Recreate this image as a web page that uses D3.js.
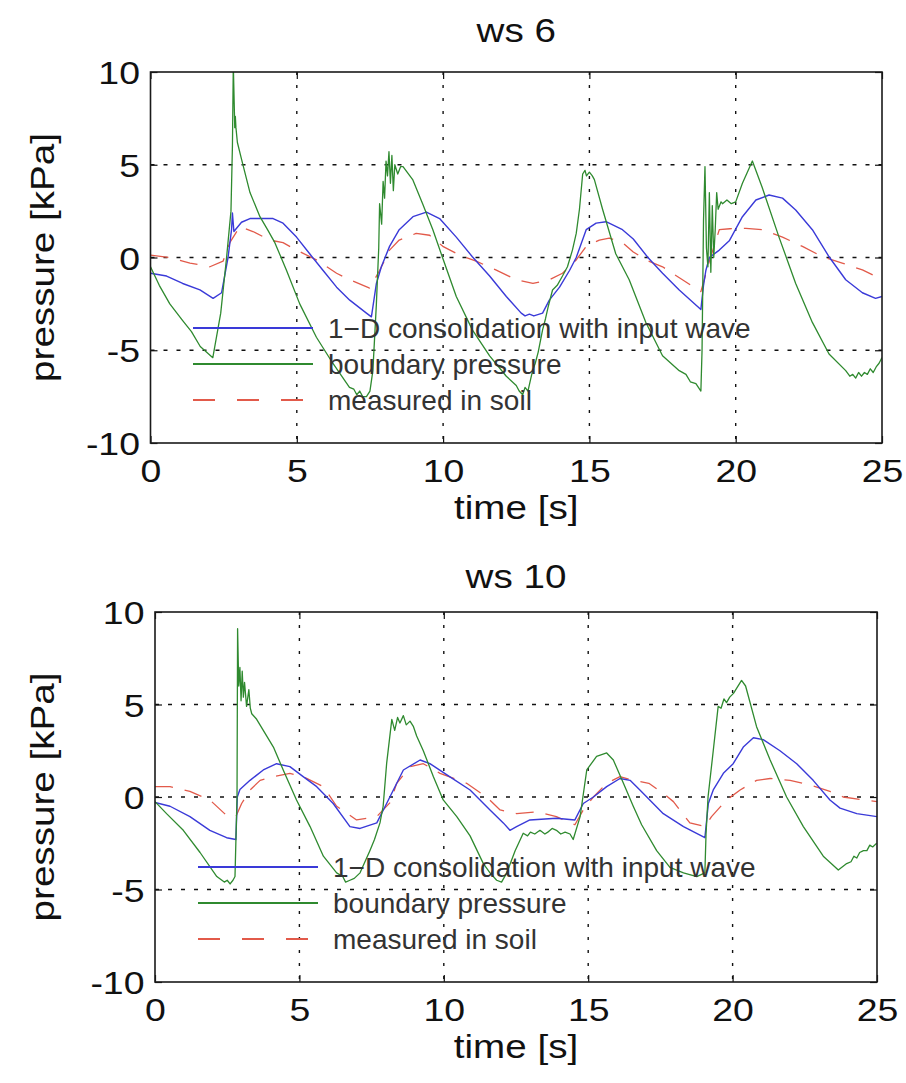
<!DOCTYPE html>
<html>
<head>
<meta charset="utf-8">
<script src="https://cdn.jsdelivr.net/npm/d3@7"></script>
<style>
  html, body { margin: 0; padding: 0; background: #fff; }
  svg { display: block; font-family: "Liberation Sans", Arial, sans-serif; }
</style>
</head>
<body>
<svg id="fig" width="906" height="1083"></svg>
<script>
// ---- data: [time s, pressure kPa] ----
const panelTitles = ["ws 6", "ws 10"];
const xTicks = [0, 5, 10, 15, 20, 25];
const yTicks = [-10, -5, 0, 5, 10];
const legendLabels = ["1\u2212D consolidation with input wave", "boundary pressure", "measured in soil"];

// ws 6
const ws6Model = [
  [0,-0.85],[0.55,-1.0],[1.1,-1.4],[1.69,-1.75],[2.14,-2.2],[2.43,-1.9],[2.65,0.0],[2.77,1.5],[2.8,2.4],[2.85,1.4],
  [3.11,1.9],[3.4,2.1],[4.19,2.1],[4.53,1.85],[4.99,1.1],[5.44,0.2],[5.9,-0.7],[6.36,-1.6],[6.81,-2.3],[7.38,-3.0],
  [7.55,-3.2],[7.72,-1.4],[7.89,-0.5],[8.17,0.6],[8.5,1.5],[8.97,2.2],[9.43,2.45],[9.88,2.1],[10.45,1.1],[11.0,0.04],
  [11.59,-1.0],[12.16,-2.1],[12.67,-3.0],[12.8,-3.15],[12.95,-3.05],[13.1,-3.15],[13.4,-3.0],[13.63,-2.3],[13.98,-1.6],[14.32,-0.7],
  [14.55,0.0],[14.89,1.5],[15.23,1.85],[15.57,1.93],[16.13,1.5],[16.5,1.0],[17.0,0.0],[17.5,-0.85],[18.07,-1.75],[18.81,-2.8],
  [18.9,-1.5],[18.98,-0.7],[19.1,0.0],[19.44,0.4],[19.78,0.9],[20.23,2.2],[20.69,3.1],[21.14,3.37],[21.6,3.2],[22.05,2.56],
  [22.62,1.5],[23.19,0.04],[23.76,-1.2],[24.33,-1.9],[24.78,-2.2],[25,-2.1]
];
const ws6Boundary = [
  [0,-0.5],[0.3,-1.5],[0.66,-2.5],[1.1,-3.4],[1.4,-4.0],[1.7,-4.8],[2.13,-5.4],[2.4,-3.0],[2.6,0.0],[2.75,2.5],
  [2.8,6.0],[2.83,10.4],[2.88,7.0],[2.9,7.6],[2.92,7.0],[2.97,6.2],[3.11,5.3],[3.4,3.5],[3.74,2.2],[4.0,1.5],
  [4.25,0.8],[4.65,-0.7],[5.1,-2.5],[5.67,-4.3],[6.23,-5.7],[6.8,-7.0],[6.95,-7.1],[7.05,-7.4],[7.15,-7.2],[7.25,-7.5],
  [7.38,-7.5],[7.5,-7.2],[7.6,-6.1],[7.72,-2.5],[7.8,0.5],[7.83,2.9],[7.9,1.8],[7.95,4.1],[8.0,3.2],[8.05,5.2],
  [8.1,4.4],[8.15,5.7],[8.2,4.0],[8.25,5.5],[8.3,3.6],[8.35,5.0],[8.45,4.5],[8.55,4.9],[8.63,4.9],[8.96,4.2],
  [9.3,2.9],[9.65,1.5],[9.98,0.0],[10.45,-2.1],[11.0,-3.9],[11.59,-5.3],[12.16,-6.4],[12.5,-6.9],[12.6,-7.2],[12.72,-7.4],
  [12.8,-7.0],[12.9,-7.2],[13.0,-6.5],[13.06,-6.1],[13.15,-5.7],[13.25,-5.1],[13.4,-3.9],[13.5,-3.3],[13.6,-2.6],[13.74,-1.75],
  [13.9,-1.5],[14.08,-1.0],[14.25,-0.5],[14.42,0.4],[14.55,1.3],[14.66,2.6],[14.77,4.5],[14.85,4.7],[14.9,4.4],[15.0,4.6],
  [15.1,4.4],[15.17,4.2],[15.45,2.6],[15.9,0.2],[16.36,-1.2],[16.93,-3.5],[17.5,-5.3],[18.07,-6.1],[18.3,-6.3],[18.45,-6.7],
  [18.64,-6.8],[18.81,-7.2],[18.85,-5.0],[18.9,2.0],[18.95,4.9],[19.0,0.5],[19.05,-0.5],[19.1,3.5],[19.15,-0.8],[19.2,2.8],
  [19.25,0.0],[19.3,1.5],[19.35,3.5],[19.4,2.6],[19.5,3.0],[19.55,2.9],[19.7,3.1],[19.85,2.9],[20.0,3.0],[20.23,4.0],
  [20.57,5.2],[20.9,3.8],[21.48,1.1],[22.05,-1.4],[22.62,-3.5],[23.19,-5.2],[23.76,-6.1],[23.9,-6.4],[24.0,-6.3],[24.1,-6.5],
  [24.2,-6.2],[24.3,-6.4],[24.4,-6.2],[24.5,-6.3],[24.6,-6.0],[24.7,-6.2],[24.8,-5.9],[24.9,-5.7],[25,-5.4]
];
const ws6Soil = [
  [0,0.13],[0.67,0.0],[1.35,-0.3],[2.03,-0.5],[2.48,-0.2],[2.71,0.8],[3.05,1.66],[3.5,1.4],[4.08,0.94],[4.53,0.8],
  [4.99,0.4],[5.67,-0.13],[6.36,-0.85],[6.81,-1.2],[7.49,-1.65],[7.83,-0.7],[8.17,0.4],[8.5,0.94],[9.08,1.3],[9.54,1.2],
  [9.99,0.6],[10.56,0.13],[11.13,-0.2],[11.8,-0.67],[12.5,-1.2],[13.07,-1.4],[13.63,-1.2],[14.08,-0.85],[14.55,-0.13],[14.89,0.6],
  [15.34,0.94],[15.68,1.05],[16.13,0.8],[16.5,0.3],[16.93,-0.13],[17.5,-0.5],[18.18,-1.2],[18.81,-1.84],[19.1,-0.2],[19.44,1.5],
  [19.8,1.55],[20.35,1.57],[20.9,1.5],[21.6,1.1],[22.28,0.6],[22.96,0.04],[23.64,-0.3],[24.33,-0.67],[24.9,-1.1],[25,-1.15]
];

// ws 10
const ws10Model = [
  [0,-0.3],[0.52,-0.5],[1.21,-1.06],[1.9,-1.8],[2.48,-2.2],[2.8,-2.3],[2.85,0.0],[2.94,0.4],[3.29,0.9],[3.75,1.46],
  [4.21,1.8],[4.67,1.64],[5.13,1.1],[5.6,0.56],[6.17,-0.35],[6.75,-1.6],[7.1,-1.7],[7.68,-1.4],[8.02,-0.35],[8.37,0.74],
  [8.6,1.46],[9.18,2.0],[9.52,1.8],[10.2,1.1],[10.91,0.38],[11.6,-0.7],[12.06,-1.4],[12.29,-1.8],[12.52,-1.6],[12.98,-1.24],
  [13.9,-1.15],[14.54,-1.24],[14.83,-0.35],[15.18,0.0],[15.64,0.56],[16.1,1.0],[16.45,0.9],[16.79,0.38],[17.6,-0.9],[18.3,-1.6],
  [19.04,-2.2],[19.16,-0.35],[19.33,0.38],[19.68,1.28],[20.02,1.8],[20.37,2.7],[20.72,3.2],[21.06,3.1],[21.64,2.5],[22.22,1.8],
  [22.79,0.9],[23.37,-0.16],[23.72,-0.6],[24.3,-0.9],[25,-1.06]
];
const ws10Boundary = [
  [0,-0.25],[0.4,-0.9],[0.98,-1.8],[1.56,-3.0],[2.14,-4.3],[2.4,-4.6],[2.5,-4.5],[2.6,-4.7],[2.7,-4.5],[2.77,-4.3],
  [2.84,0.0],[2.86,9.1],[2.9,6.0],[2.94,7.0],[2.98,5.2],[3.02,6.8],[3.06,5.4],[3.1,6.2],[3.17,4.9],[3.25,5.8],
  [3.3,4.8],[3.35,4.5],[3.52,4.2],[3.75,3.6],[4.1,2.7],[4.44,1.46],[4.9,-0.16],[5.37,-1.6],[5.83,-3.2],[6.29,-4.1],
  [6.5,-4.3],[6.6,-4.6],[6.75,-4.5],[6.9,-4.4],[7.1,-4.1],[7.44,-2.9],[7.6,-2.3],[7.79,-1.4],[7.9,-0.5],[8.02,1.8],
  [8.2,4.2],[8.3,3.6],[8.4,4.3],[8.48,4.0],[8.6,4.4],[8.7,3.9],[8.83,4.1],[8.95,3.8],[9.06,3.3],[9.29,2.5],
  [9.64,1.1],[9.98,-0.16],[10.45,-1.06],[10.91,-2.1],[11.37,-3.6],[11.6,-4.1],[11.83,-4.5],[12.0,-4.6],[12.18,-4.1],[12.47,-2.9],
  [12.75,-1.96],[12.9,-2.1],[13.0,-1.9],[13.15,-2.0],[13.33,-1.8],[13.5,-2.0],[13.6,-1.9],[13.75,-1.7],[13.9,-1.8],[14.05,-2.0],
  [14.2,-1.9],[14.37,-2.0],[14.48,-2.3],[14.72,-1.06],[14.95,1.46],[15.29,2.2],[15.64,2.38],[15.87,2.0],[16.22,0.74],[16.56,-0.5],
  [16.85,-1.5],[17.37,-2.9],[17.83,-3.8],[18.3,-4.1],[18.76,-4.3],[19.04,-4.1],[19.08,-2.0],[19.15,0.0],[19.33,2.5],[19.5,4.9],
  [19.6,4.8],[19.7,5.3],[19.79,5.1],[19.9,5.4],[20.03,5.6],[20.31,6.3],[20.45,6.0],[20.83,3.8],[21.3,2.0],[21.87,0.0],
  [22.45,-1.6],[23.14,-3.2],[23.66,-3.95],[23.95,-3.6],[24.1,-3.5],[24.2,-3.2],[24.3,-3.3],[24.4,-3.0],[24.53,-2.9],[24.65,-2.9],
  [24.75,-2.6],[24.85,-2.7],[24.99,-2.5]
];
const ws10Soil = [
  [0,0.56],[0.52,0.56],[1.21,0.3],[1.9,-0.16],[2.48,-1.0],[2.8,-1.06],[3.0,-0.35],[3.29,0.38],[3.64,0.9],[4.1,1.1],
  [4.67,1.28],[5.13,1.1],[5.83,0.56],[6.29,-0.5],[6.98,-1.24],[7.68,-1.06],[8.14,-0.3],[8.37,0.74],[8.83,1.64],[9.29,1.8],
  [9.87,1.28],[10.79,0.74],[11.48,0.0],[11.95,-0.7],[12.52,-0.9],[13.22,-0.8],[13.9,-1.06],[14.54,-1.5],[14.83,-0.7],[15.18,0.0],
  [15.64,0.74],[16.1,1.1],[16.56,0.9],[17.1,0.74],[17.6,0.2],[17.95,-0.25],[18.52,-1.4],[19.04,-1.6],[19.27,-1.06],[19.79,-0.16],
  [20.26,0.38],[20.83,0.9],[21.3,1.0],[21.99,0.9],[22.68,0.65],[23.37,0.3],[23.83,0.0],[24.53,-0.16],[25,-0.25]
];

// ---- layout ----
const svg = d3.select("#fig");
const stretch = 1.17; // axis text is drawn slightly wide
const panels = [
  { title: panelTitles[0], model: ws6Model, boundary: ws6Boundary, soil: ws6Soil,
    left: 150.5, right: 882, top: 72, bottom: 443, titleY: 42, legendX: 193, legendY: 328 },
  { title: panelTitles[1], model: ws10Model, boundary: ws10Boundary, soil: ws10Soil,
    left: 155, right: 877, top: 612, bottom: 982, titleY: 588, legendX: 198, legendY: 867 }
];
const styles = [
  { key: "model",    color: "#3a3ad8", width: 1.4, dash: null },
  { key: "boundary", color: "#2f8a2f", width: 1.3, dash: null },
  { key: "soil",     color: "#e25a4a", width: 1.3, dash: "18,12" }
];

function wideText(parent, x, y, str, size, rotate) {
  return parent.append("text")
    .attr("transform", `translate(${x},${y})` + (rotate ? ` rotate(${rotate})` : "") + ` scale(${stretch},1)`)
    .attr("text-anchor", "middle").attr("font-size", size).attr("fill", "#111").text(str);
}

panels.forEach((p, i) => {
  const x = d3.scaleLinear().domain([0, 25]).range([p.left, p.right]);
  const y = d3.scaleLinear().domain([-10, 10]).range([p.bottom, p.top]);
  const g = svg.append("g");

  const clipId = "clip" + i;
  svg.append("clipPath").attr("id", clipId)
    .append("rect").attr("x", p.left).attr("y", p.top)
    .attr("width", p.right - p.left).attr("height", p.bottom - p.top);

  // dotted grid
  const grid = g.append("g").attr("stroke", "#111").attr("stroke-width", 1.4);
  xTicks.slice(1, -1).forEach(t => {
    grid.append("line").attr("x1", x(t)).attr("x2", x(t)).attr("y1", p.top).attr("y2", p.bottom)
      .attr("stroke-dasharray", "3,10");
  });
  yTicks.slice(1, -1).forEach(t => {
    grid.append("line").attr("x1", p.left).attr("x2", p.right).attr("y1", y(t)).attr("y2", y(t))
      .attr("stroke-dasharray", "4,9");
  });

  // data lines
  const line = d3.line().x(d => x(d[0])).y(d => y(d[1]));
  const lines = g.append("g").attr("clip-path", `url(#${clipId})`);
  [styles[2], styles[0], styles[1]].forEach(s => {
    lines.append("path").datum(p[s.key])
      .attr("d", line).attr("fill", "none")
      .attr("stroke", s.color).attr("stroke-width", s.width)
      .attr("stroke-linejoin", "round")
      .attr("stroke-dasharray", s.dash);
  });

  // axes with inward ticks on all sides
  const tickLen = 7;
  const axB = g.append("g").attr("transform", `translate(0,${p.bottom})`)
    .call(d3.axisBottom(x).tickValues(xTicks).tickSizeInner(-tickLen).tickSizeOuter(0).tickPadding(16));
  const axT = g.append("g").attr("transform", `translate(0,${p.top})`)
    .call(d3.axisTop(x).tickValues(xTicks).tickSizeInner(-tickLen).tickSizeOuter(0).tickFormat(""));
  const axL = g.append("g").attr("transform", `translate(${p.left},0)`)
    .call(d3.axisLeft(y).tickValues(yTicks).tickSizeInner(-tickLen).tickSizeOuter(0).tickPadding(9)
      .tickFormat(d => String(d)));
  const axR = g.append("g").attr("transform", `translate(${p.right},0)`)
    .call(d3.axisRight(y).tickValues(yTicks).tickSizeInner(-tickLen).tickSizeOuter(0).tickFormat(""));
  [axB, axT, axL, axR].forEach(a => {
    a.select(".domain").remove();
    a.selectAll(".tick line").attr("stroke", "#111").attr("stroke-width", 1.2);
    a.selectAll("text").attr("font-size", 32).attr("fill", "#111")
      .attr("font-family", "'Liberation Sans', Arial, sans-serif")
      .attr("transform", `scale(${stretch},1)`);
  });
  axB.selectAll("text").attr("dy", "0.71em");
  axL.selectAll("text").attr("dy", "0.36em");

  // frame
  g.append("rect").attr("x", p.left).attr("y", p.top)
    .attr("width", p.right - p.left).attr("height", p.bottom - p.top)
    .attr("fill", "none").attr("stroke", "#1a1a1a").attr("stroke-width", 1.6);

  // title and axis labels
  wideText(g, (p.left + p.right) / 2, p.titleY, p.title, 33);
  wideText(g, (p.left + p.right) / 2, p.bottom + 76, "time [s]", 33);
  wideText(g, 54, (p.top + p.bottom) / 2, "pressure [kPa]", 33, -90);

  // legend (no box)
  const leg = g.append("g");
  styles.forEach((s, k) => {
    const ly = p.legendY + k * 36;
    leg.append("line").attr("x1", p.legendX).attr("x2", p.legendX + 120)
      .attr("y1", ly).attr("y2", ly)
      .attr("stroke", s.color).attr("stroke-width", 1.8)
      .attr("stroke-dasharray", s.dash ? "22,22" : null);
    leg.append("text").attr("x", p.legendX + 135).attr("y", ly).attr("dy", "0.35em")
      .attr("font-size", 28).attr("fill", "#333").text(legendLabels[k]);
  });
});
</script>
</body>
</html>
